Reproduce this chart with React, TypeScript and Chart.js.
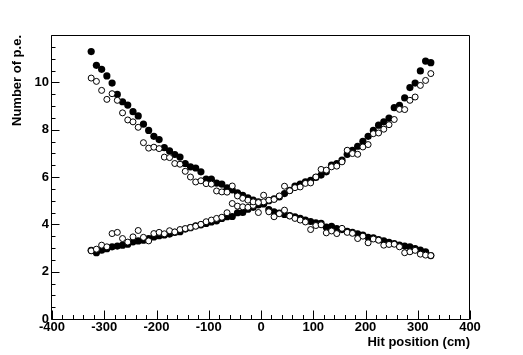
import React, { useEffect, useRef } from 'react';
import { Chart, registerables } from 'chart.js';

Chart.register(...registerables);

const X_POS = [
  -325, -315, -305, -295, -285, -275, -265, -255, -245, -235, -225, -215, -205, -195, -185, -175, -165,
  -155, -145, -135, -125, -115, -105, -95, -85, -75, -65, -55, -45, -35, -25, -15, -5,
  5, 15, 25, 35, 45, 55, 65, 75, 85, 95, 105, 115, 125, 135, 145, 155, 165,
  175, 185, 195, 205, 215, 225, 235, 245, 255, 265, 275, 285, 295, 305, 315, 325,
];

const FILLED_DEC = [
  11.3, 10.72, 10.55, 10.27, 9.97, 9.49, 9.18, 9.04, 8.76, 8.58, 8.23, 7.97, 7.72, 7.58, 7.24, 7.1, 6.95,
  6.84, 6.57, 6.43, 6.38, 6.22, 5.91, 5.91, 5.74, 5.7, 5.54, 5.45, 5.33, 5.22, 5.12, 5.02, 4.95,
  4.86, 4.62, 4.53, 4.47, 4.42, 4.37, 4.32, 4.25, 4.18, 4.12, 4.06, 4.04, 3.88, 3.92, 3.82, 3.78, 3.7,
  3.66, 3.6, 3.54, 3.45, 3.43, 3.35, 3.3, 3.24, 3.19, 3.12, 3.08, 3.05, 2.97, 2.91, 2.84, 2.68,
];

const OPEN_DEC = [
  10.18, 10.04, 9.66, 9.28, 9.52, 9.24, 8.71, 8.41, 8.33, 8.1, 7.45, 7.22, 7.26, 7.2, 6.84, 6.82, 6.57,
  6.54, 6.24, 6.0, 5.79, 5.84, 5.72, 5.7, 5.41, 5.37, 5.36, 5.62, 5.2, 5.1, 5.02, 4.95, 4.92,
  5.23, 4.53, 4.32, 4.45, 4.6, 4.35, 4.25, 4.18, 4.1, 3.78, 3.95, 3.98, 3.64, 3.72, 3.61, 3.83, 3.66,
  3.62, 3.4, 3.5, 3.22, 3.38, 3.33, 3.12, 3.15, 3.16, 3.05, 2.8, 2.84, 2.9, 2.74, 2.7, 2.68,
];

const FILLED_INC = [
  2.9, 2.8, 2.91, 2.97, 3.05, 3.08, 3.12, 3.16, 3.26, 3.3, 3.33, 3.4, 3.47, 3.52, 3.55, 3.59, 3.66,
  3.69, 3.8, 3.86, 3.94, 3.98, 4.04, 4.1, 4.15, 4.25, 4.32, 4.33, 4.49, 4.5, 4.64, 4.72, 4.82,
  4.89, 5.0, 5.08, 5.16, 5.3, 5.44, 5.62, 5.7, 5.79, 5.86, 5.98, 6.08, 6.22, 6.5, 6.57, 6.71, 6.96,
  7.13, 7.3, 7.51, 7.72, 7.97, 8.19, 8.33, 8.49, 8.93, 9.03, 9.34, 9.78, 9.97, 10.48, 10.9, 10.83,
];

const OPEN_INC = [
  2.88, 2.95, 3.12, 3.05, 3.61, 3.66, 3.4, 3.25, 3.47, 3.74, 3.45, 3.3, 3.61, 3.66, 3.6, 3.73, 3.68,
  3.78, 3.82, 3.87, 3.92, 4.0, 4.11, 4.18, 4.25, 4.3, 4.49, 4.88, 4.77, 4.74, 4.72, 4.8, 4.5,
  4.95, 5.02, 5.05, 5.2, 5.61, 5.42, 5.55, 5.58, 5.73, 5.75, 6.0, 6.32, 6.29, 6.43, 6.46, 6.64, 7.13,
  6.99, 6.96, 7.27, 7.37, 7.83, 7.86, 8.02, 8.21, 8.43, 8.86, 8.85, 9.24, 9.38, 9.87, 10.08, 10.37,
];

const X_TICKS = [-400, -300, -200, -100, 0, 100, 200, 300, 400];
const Y_TICKS = [0, 2, 4, 6, 8, 10];
const X_TITLE = 'Hit position (cm)';
const Y_TITLE = 'Number of p.e.';

const FONT = '"Liberation Sans", Arial, Helvetica, sans-serif';

const toPoints = (ys: number[]) => X_POS.map((x, i) => ({ x, y: ys[i] }));

const frameTicks = {
  id: 'frameTicks',
  beforeDatasetsDraw(chart: any) {
    const { ctx, chartArea: a, scales } = chart;
    const xs = scales.x;
    const ys = scales.y;
    ctx.save();
    ctx.strokeStyle = '#000';
    ctx.lineWidth = 1;
    const L = Math.round(a.left) - 0.5;
    const R = Math.round(a.right) - 0.5;
    const T = Math.round(a.top) + 0.5;
    const B = Math.round(a.bottom) + 0.5;
    ctx.beginPath();
    ctx.rect(L, T, R - L, B - T);
    ctx.stroke();
    ctx.beginPath();
    for (let v = -400; v <= 400; v += 20) {
      const px = Math.round(xs.getPixelForValue(v)) + 0.5;
      const len = v % 100 === 0 ? 9 : 4.5;
      ctx.moveTo(px, B);
      ctx.lineTo(px, B - len);
    }
    for (let v = 0; v <= 12; v += 0.5) {
      const py = Math.round(ys.getPixelForValue(v)) + 0.5;
      const len = v % 2 === 0 ? 8 : 4;
      ctx.moveTo(L, py);
      ctx.lineTo(L + len, py);
    }
    ctx.stroke();
    ctx.restore();
  },
};

export default function App() {
  const ref = useRef<HTMLCanvasElement | null>(null);

  useEffect(() => {
    document.body.style.margin = '0';
    const canvas = ref.current;
    if (!canvas) return;
    const tickFont = { family: FONT, size: 13, weight: 'bold' as const };
    const chart = new Chart(canvas, {
      type: 'scatter',
      data: {
        datasets: [
          {
            label: 'open decreasing',
            data: toPoints(OPEN_DEC),
            pointStyle: 'circle',
            pointRadius: 3,
            pointBackgroundColor: '#fff',
            pointBorderColor: '#000',
            pointBorderWidth: 1,
            showLine: false,
          },
          {
            label: 'open increasing',
            data: toPoints(OPEN_INC),
            pointStyle: 'circle',
            pointRadius: 3,
            pointBackgroundColor: '#fff',
            pointBorderColor: '#000',
            pointBorderWidth: 1,
            showLine: false,
          },
          {
            label: 'filled decreasing',
            data: toPoints(FILLED_DEC),
            pointStyle: 'circle',
            pointRadius: 3.6,
            pointBackgroundColor: '#000',
            pointBorderColor: '#000',
            pointBorderWidth: 0,
            showLine: false,
          },
          {
            label: 'filled increasing',
            data: toPoints(FILLED_INC),
            pointStyle: 'circle',
            pointRadius: 3.6,
            pointBackgroundColor: '#000',
            pointBorderColor: '#000',
            pointBorderWidth: 0,
            showLine: false,
          },
        ],
      },
      options: {
        responsive: false,
        animation: false,
        devicePixelRatio: 1,
        layout: { padding: { left: 0, top: 35, right: 53, bottom: 0 } },
        plugins: {
          legend: { display: false },
          tooltip: { enabled: false },
        },
        scales: {
          x: {
            type: 'linear',
            min: -400,
            max: 400,
            grid: { display: false, drawTicks: false },
            border: { display: false },
            afterBuildTicks: (s: any) => {
              s.ticks = X_TICKS.map((v) => ({ value: v }));
            },
            afterFit: (s: any) => {
              s.height = 36;
              s.paddingLeft = 0;
              s.paddingRight = 0;
            },
            ticks: {
              font: tickFont,
              color: '#000',
              padding: 1,
              maxRotation: 0,
              autoSkip: false,
              callback: (v: any) => String(v),
            },
            title: {
              display: true,
              text: X_TITLE,
              align: 'end',
              color: '#000',
              font: tickFont,
              padding: { top: 0, bottom: 5 },
            },
          },
          y: {
            type: 'linear',
            min: 0,
            max: 12,
            grid: { display: false, drawTicks: false },
            border: { display: false },
            afterBuildTicks: (s: any) => {
              s.ticks = Y_TICKS.map((v) => ({ value: v }));
            },
            afterFit: (s: any) => {
              s.width = 52;
            },
            ticks: {
              font: tickFont,
              color: '#000',
              padding: 3,
              autoSkip: false,
              callback: (v: any) => String(v),
            },
            title: {
              display: true,
              text: Y_TITLE,
              align: 'end',
              color: '#000',
              font: tickFont,
              padding: { top: 10, bottom: 0 },
            },
          },
        },
      },
      plugins: [frameTicks],
    });
    return () => chart.destroy();
  }, []);

  return (
    <div style={{ width: 523, height: 355, background: '#fff' }}>
      <canvas ref={ref} width={523} height={355} style={{ display: 'block', width: 523, height: 355 }} />
    </div>
  );
}
